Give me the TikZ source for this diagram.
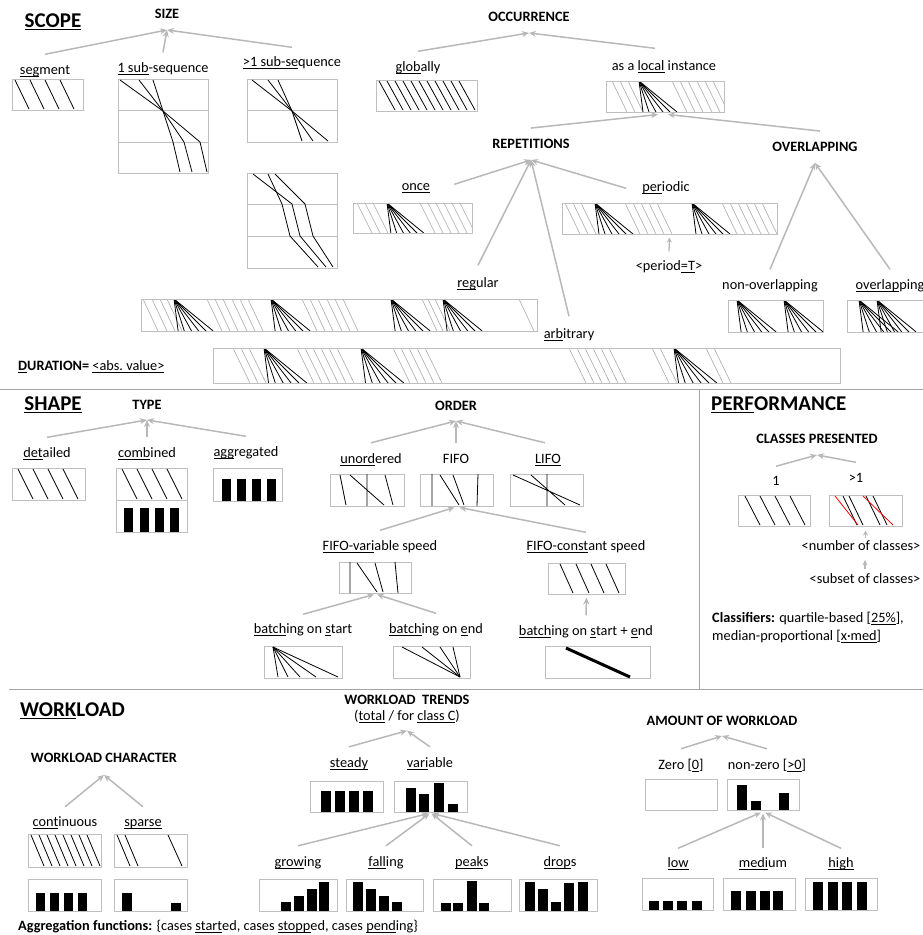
\documentclass[tikz,border=0pt]{standalone}
\usepackage{fontspec}
\setmainfont{Carlito}
\usetikzlibrary{arrows.meta,fit}

\definecolor{boxgray}{RGB}{191,191,191}
\definecolor{arrgray}{RGB}{184,184,184}
\definecolor{sepgray}{RGB}{165,165,165}
\definecolor{hatchgray}{RGB}{170,170,170}

% underline at a fixed depth
\newcommand{\und}[1]{\setbox0\hbox{#1}\rlap{\rule[-0.13em]{\wd0}{0.06em}}\box0\relax}
% gray hatching: top x list, y top, y bottom, run
\newcommand{\hatch}[4]{\foreach \tx in {#1} \draw[hat] (\tx,#2) -- ++(#4,#3-#2);}
% fan of black lines from one point on the top edge
\newcommand{\fan}[3]{\foreach \d in {4,10,17,24,31,38} \draw[blk] (#1,#2) -- ++({\d*(#3-#2)/31},#3-#2);}
% black bars: x/top list, width, bottom
\newcommand{\bars}[3]{\foreach \bx/\by in {#1} \fill (\bx,\by) rectangle (\bx+#2,#3);}

\tikzset{
  box/.style={draw=boxgray, line width=1pt},
  bx/.style={box, inner sep=0pt},
  sep/.style={draw=sepgray, line width=1pt},
  arr/.style={draw=arrgray, line width=1.5pt, -{Stealth[length=7pt,width=6pt]}},
  sarr/.style={draw=arrgray, line width=1.3pt, -{Stealth[length=5pt,width=5pt]}},
  blk/.style={line width=0.8pt},
  hat/.style={draw=hatchgray, line width=0.6pt},
  lbl/.style={font=\fontsize{14.3}{17}\selectfont, inner sep=1pt, text height=10pt, text depth=3pt},
  hd/.style={font=\fontsize{14.3}{17}\selectfont\bfseries, inner sep=1pt, text height=9.5pt, text depth=0pt},
  big/.style={font=\fontsize{21}{24}\selectfont\bfseries, inner sep=1pt},
}

\begin{document}
\begin{tikzpicture}[x=1pt,y=-1pt]
\useasboundingbox (0,0) rectangle (923,935);

% ---------------- SCOPE ----------------
\node[big] (scope) at (53,22) {\und{SCOPE}};
\node[hd] (size) at (167,14) {SIZE};
\coordinate (sizeT) at ([yshift=-10pt]size.south);
\node[lbl] (seg) at (45,71) {\und{seg}ment};
\node[lbl] (sub1) at (163,69) {\und{1 sub}-sequence};
\node[lbl] (subN) at (292,63) {\und{>1 sub-se}quence};
\draw[arr] ([yshift=9pt]seg.north) -- (sizeT);
\draw[arr] ([yshift=9pt]sub1.north) -- (sizeT);
\draw[arr] ([yshift=8pt]subN.north) -- (sizeT);

\node[bx, fit={(12,79) (83,110)}] (segB) {};
\foreach \tx in {15,30,45,60} \draw[blk] (\tx,80) -- ++(14,29);

\node[bx, fit={(118,79) (208,173)}] (sub1B) {};
\draw[box] (118,110) -- (208,110) (118,142) -- (208,142);
\draw[blk] (120,80) -- (163,111) -- (200,142) -- (207,172);
\draw[blk] (139,80) -- (163,111) -- (184,142) -- (192,172);
\draw[blk] (153,80) -- (163,111) -- (173,142) -- (180,172);

\node[bx, fit={(247,79) (337,142)}] (subNa) {};
\draw[box] (247,110) -- (337,110);
\draw[blk] (252,80) -- (292,111) -- (328,141);
\draw[blk] (268,80) -- (292,111) -- (313,141);
\draw[blk] (278,80) -- (292,111) -- (302,141);

\node[bx, fit={(247,173) (337,268)}] (subNb) {};
\draw[box] (247,204) -- (337,204) (247,236) -- (337,236);
\draw[blk] (253,174) -- (292,204) -- (300,236) -- (326,267);
\draw[blk] (268,174) -- (282,204) -- (290,236) -- (318,267);
\draw[blk] (275,174) -- (305,204) -- (313,236) -- (333,267);

\node[hd] (occ) at (529,17) {OCCURRENCE};
\coordinate (occT) at ([yshift=-10pt]occ.south);
\node[lbl] (glob) at (418,68) {\und{glob}ally};
\node[lbl] (loc) at (664,67) {as a \und{local} instance};
\draw[arr] ([yshift=9pt]glob.north) -- (occT);
\draw[arr] ([xshift=-9pt,yshift=11pt]loc.north) -- (occT);

\node[bx, fit={(376,80) (477,111)}] (globB) {};
\foreach \i in {0,...,10} \draw[blk] (379+8*\i,81) -- ++(16,29);

\begin{scope}
  \clip (606,81) rectangle (724,112);
  \hatch{612,620,628,672,680,688,697,705,713}{81}{112}{15}
  \fan{639}{81}{112}
\end{scope}
\node[bx, fit={(606,81) (724,112)}] (locB) {};

\node[hd] (rep) at (531,144) {REPETITIONS};
\node[hd] (ovl) at (815,147) {OVERLAPPING};
\coordinate (repT) at ([yshift=-10pt]rep.south);
\coordinate (ovlT) at ([yshift=-10pt]ovl.south);
\draw[arr] ([yshift=10pt]rep.north) -- ([xshift=-7pt,yshift=-2pt]locB.south);
\draw[arr] ([xshift=5pt,yshift=10pt]ovl.north) -- ([xshift=3pt,yshift=-2pt]locB.south);

\node[lbl] (once) at (416,187) {\und{once}};
\node[lbl] (per) at (666,188) {\und{per}iodic};
\node[lbl] (reg) at (478,284) {\und{reg}ular};
\node[lbl] (arb) at (569,335) {\und{arb}itrary};
\draw[arr] ([xshift=23pt,yshift=-5pt]once.north east) -- (repT);
\draw[arr] ([xshift=-15pt,yshift=-8pt]per.north west) -- (repT);
\draw[arr] ([yshift=11pt]reg.north) -- (repT);
\draw[arr] ([yshift=11pt]arb.north) -- (repT);

\begin{scope}
  \clip (353,203) rectangle (472,233);
  \hatch{357,365,373,420,428,436,444,452,460}{203}{233}{15}
  \fan{387}{203}{233}
\end{scope}
\node[bx, fit={(353,203) (472,233)}] (onceB) {};

\begin{scope}
  \clip (562,203) rectangle (777,234);
  \hatch{565,573,581,625,633,641,649,657,722,730,738,746,754,762}{203}{234}{15}
  \fan{595}{203}{234}
  \fan{692}{203}{234}
\end{scope}
\node[bx, fit={(562,203) (777,234)}] (perB) {};
\node[lbl] (perT) at (669,267) {<period\und{=T}>};
\draw[sarr] ([yshift=8pt]perT.north) -- ([yshift=-3pt]perB.south);

\begin{scope}
  \clip (141,299) rectangle (537,331);
  \hatch{143,152,160,167,207,215,223,232,240,248,302,310,318,327,335,343,422,428,435,519}{299}{331}{15}
  \fan{174}{299}{331}
  \fan{271}{299}{331}
  \fan{391}{299}{331}
  \fan{443}{299}{331}
\end{scope}
\node[bx, fit={(141,299) (537,331)}] (regB) {};

\begin{scope}
  \clip (213,348) rectangle (840,383);
  \hatch{233,241,249,297,305,313,321,329,337,393,401,409,417,425,569,577,585,593,601,609,652,660,706,714}{348}{383}{17}
  \fan{264}{348}{383}
  \fan{361}{348}{383}
  \fan{674}{348}{383}
\end{scope}
\node[bx, fit={(213,348) (840,383)}] (arbB) {};
\node[lbl, anchor=west] (dur) at (17,367) {\textbf{\und{D}URATION=} \und{<abs.\ value>}};

\node[lbl] (nonov) at (770,286) {non-overlapping};
\node[lbl] (ov) at (890,286) {\und{overlap}ping};
\draw[arr] ([yshift=9pt]nonov.north) -- (ovlT);
\draw[arr] ([yshift=9pt]ov.north) -- (ovlT);
\begin{scope}
  \clip (728,300) rectangle (823,332);
  \fan{737}{300}{332}
  \fan{784}{300}{332}
\end{scope}
\node[bx, fit={(728,300) (823,332)}] (nonovB) {};
\begin{scope}
  \clip (847,300) rectangle (950,332);
  \fan{859}{300}{332}
  \fan{877}{300}{332}
\end{scope}
\node[bx, fit={(847,300) (950,332)}] (ovB) {};

% separators
\draw[sep] (0,389) -- (923,389);
\draw[sep] (699,389) -- (699,689);
\draw[sep] (9,689) -- (923,689);

% ---------------- SHAPE ----------------
\node[big] (shape) at (53,405) {\und{SHAPE}};
\node[hd] (type) at (147,405) {TYPE};
\coordinate (typeT) at ([yshift=-9pt]type.south);
\node[lbl] (det) at (47,454) {\und{det}ailed};
\node[lbl] (comb) at (147,454) {\und{comb}ined};
\node[lbl] (agg) at (246,453) {\und{agg}regated};
\draw[arr] ([yshift=9pt]det.north) -- (typeT);
\draw[arr] ([yshift=9pt]comb.north) -- (typeT);
\draw[arr] ([yshift=9pt]agg.north) -- (typeT);

\node[bx, fit={(12,468) (85,500)}] (detB) {};
\foreach \tx in {18,33,48,63} \draw[blk] (\tx,469) -- ++(15,30);
\node[bx, fit={(116,468) (187,500)}] (combB) {};
\foreach \tx in {122,137,152,167} \draw[blk] (\tx,469) -- ++(15,30);
\node[bx, fit={(116,500) (187,532)}] (combB2) {};
\bars{124/508,140/508,155/508,170/508}{9}{532}
\node[bx, fit={(213,468) (282,501)}] (aggB) {};
\bars{222/479,237/479,252/479,267/479}{9}{501}

\node[hd] (order) at (456,406) {ORDER};
\coordinate (orderT) at ([yshift=-9pt]order.south);
\node[lbl] (unord) at (371,460) {\und{unord}ered};
\node[lbl] (fifo) at (456,460) {FIFO};
\node[lbl] (lifo) at (548,460) {\und{LIFO}};
\draw[arr] ([yshift=9.5pt]unord.north) -- (orderT);
\draw[arr] ([yshift=9.5pt]fifo.north) -- (orderT);
\draw[arr] ([xshift=-3pt,yshift=9.5pt]lifo.north) -- (orderT);

\node[bx, fit={(330,474) (404,506)}] (unordB) {};
\draw[blk] (340,475) -- (346,505) (350,475) -- (384,505) (367,474) -- (367,506) (385,475) -- (393,505);
\node[bx, fit={(420,474) (493,506)}] (fifoB) {};
\draw[blk] (432,474) -- (432,506) (440,475) -- (459,505) (453,475) -- (464,505) (478,474) -- (477,506);
\node[bx, fit={(510,474) (583,506)}] (lifoB) {};
\draw[blk] (513,475) -- (580,505) (531,475) -- (565,505) (547,474) -- (547,506);

\node[lbl] (fvar) at (380,547) {\und{FIFO-vari}able speed};
\node[lbl] (fcon) at (586,547) {\und{FIFO-const}ant speed};
\draw[arr] ([yshift=9pt]fvar.north) -- ([xshift=-2pt,yshift=-1pt]fifoB.south);
\draw[arr] ([yshift=7pt]fcon.north) -- ([xshift=3pt,yshift=-1pt]fifoB.south);

\node[bx, fit={(339,562) (411,593)}] (fvarB) {};
\draw[blk] (350,562) -- (350,593) (357,563) -- (377,592) (375,563) -- (383,592) (395,562) -- (398,593);
\node[bx, fit={(548,563) (625,594)}] (fconB) {};
\foreach \tx in {560,576,591,606} \draw[blk] (\tx,564) -- ++(13,29);

\node[lbl] (bs) at (303,630) {\und{batch}ing on \und{s}tart};
\node[lbl] (be) at (436,630) {\und{batch}ing on \und{e}nd};
\node[lbl] (bse) at (586,632) {\und{batch}ing on \und{s}tart + \und{e}nd};
\draw[arr] ([yshift=8pt]bs.north) -- ([xshift=-1pt,yshift=-1pt]fvarB.south);
\draw[arr] ([yshift=9pt]be.north) -- ([xshift=2pt,yshift=-1pt]fvarB.south);
\draw[arr] ([yshift=9pt]bse.north) -- ([yshift=-3pt]fconB.south);

\node[bx, fit={(264,646) (342,678)}] (bsB) {};
\foreach \ex in {278,288,300,316,338} \draw[blk] (273,647) -- (\ex,677);
\node[bx, fit={(393,646) (470,678)}] (beB) {};
\foreach \sx in {402,422,440,453} \draw[blk] (\sx,647) -- (460,677);
\node[bx, fit={(545,646) (650,678)}] (bseB) {};
\draw[line width=3pt] (566,648) -- (630,677);

% ---------------- PERFORMANCE ----------------
\node[big, anchor=west] (perf) at (710,405) {\und{PERF}ORMANCE};
\node[hd] (cls) at (817,439) {CLASSES PRESENTED};
\coordinate (clsT) at ([yshift=-10pt]cls.south);
\node[lbl] (one) at (776,482) {1};
\node[lbl] (gtone) at (856,479) {>1};
\draw[arr] ([yshift=8pt]one.north) -- (clsT);
\draw[arr] ([yshift=9pt]gtone.north) -- (clsT);

\node[bx, fit={(738,495) (810,526)}] (oneB) {};
\foreach \tx in {745,760,775,790} \draw[blk] (\tx,496) -- ++(15,29);
\node[bx, fit={(829,495) (902,526)}] (gtoneB) {};
\foreach \tx in {843,849,866,873} \draw[blk] (\tx,496) -- ++(14,29);
\draw[red, line width=0.8pt] (835,496) -- (858,525) (863,496) -- (893,525);

\node[lbl] (numc) at (861,547) {<number of classes>};
\node[lbl] (subc) at (865,580) {<subset of classes>};
\draw[sarr, shorten <=1.5pt] (numc.north -| gtoneB.south) -- ([yshift=-4pt]gtoneB.south);
\draw[sarr, shorten >=5.5pt] ([yshift=3pt]subc.north) -- (numc.south -| subc.north);

\node[lbl, anchor=west] (clf1) at (711,619) {\textbf{Classifiers:} quartile-based [\und{25\%}],};
\node[lbl, anchor=west] (clf2) at (711,637) {median-proportional [\und{x·med}]};

% ---------------- WORKLOAD ----------------
\node[big, anchor=west] (work) at (19,711) {\und{WORK}LOAD};
\node[hd] (wchar) at (104,758) {WORKLOAD CHARACTER};
\coordinate (wcharT) at ([yshift=-11pt]wchar.south);
\node[lbl] (cont) at (65,823) {\und{cont}inuous};
\node[lbl] (spar) at (143,823) {\und{sparse}};
\draw[arr] ([yshift=8.5pt]cont.north) -- (wcharT);
\draw[arr] ([yshift=8.5pt]spar.north) -- (wcharT);

\begin{scope}
  \clip (28,834) rectangle (101,867);
  \foreach \i in {0,...,7} \draw[blk] (31+8*\i,835) -- ++(13,31);
\end{scope}
\node[bx, fit={(28,834) (101,867)}] (contB) {};
\node[bx, fit={(114,834) (187,867)}] (sparB) {};
\draw[blk] (117,835) -- ++(13,31) (125,835) -- ++(13,31) (168,835) -- ++(14,31);
\node[bx, fit={(28,879) (101,911)}] (contB2) {};
\bars{36/893,50/893,64/893,78/893}{9}{911}
\node[bx, fit={(114,879) (187,911)}] (sparB2) {};
\bars{122/893,171/903}{10}{911}

\node[hd] (wt) at (407,700) {WORKLOAD\ \ TRENDS};
\node[lbl] (wtsub) at (407,717) {(\und{total} / for \und{class C})};
\coordinate (wtT) at ([yshift=-6pt]wtsub.south);
\node[lbl] (steady) at (349,764) {\und{steady}};
\node[lbl] (vari) at (430,764) {\und{vari}able};
\draw[arr] ([yshift=9.5pt]steady.north) -- (wtT);
\draw[arr] ([yshift=9.5pt]vari.north) -- (wtT);

\node[bx, fit={(310,781) (383,812)}] (steadyB) {};
\bars{321/791,335/791,349/791,363/791}{9.5}{812}
\node[bx, fit={(394,781) (467,812)}] (variB) {};
\bars{406/788,419/794,434/783,448/804}{9.5}{812}

\node[lbl] (grow) at (298,863) {\und{grow}ing};
\node[lbl] (fall) at (386,863) {\und{fall}ing};
\node[lbl] (peaks) at (472,863) {\und{peak}s};
\node[lbl] (drops) at (560,863) {\und{drop}s};
\draw[arr] ([yshift=9.5pt]grow.north) -- ([xshift=-2pt,yshift=-1pt]variB.south);
\draw[arr] ([yshift=9.5pt]fall.north) -- ([xshift=-1pt,yshift=-1pt]variB.south);
\draw[arr] ([yshift=9.5pt]peaks.north) -- ([xshift=1pt,yshift=-1pt]variB.south);
\draw[arr] ([yshift=9.5pt]drops.north) -- ([xshift=2pt,yshift=-1pt]variB.south);

\node[bx, fit={(259,879) (337,911)}] (growB) {};
\bars{281/902,294/896,307/889,319/882}{9.5}{911}
\node[bx, fit={(346,879) (423,911)}] (fallB) {};
\bars{353/882,366/889,379/896,392/902}{9.5}{911}
\node[bx, fit={(433,879) (511,911)}] (peaksB) {};
\bars{441/903,453/903,467/881,479/903}{9.5}{911}
\node[bx, fit={(519,879) (597,911)}] (dropsB) {};
\bars{525/882,538/889,551/902,564/883,578/882}{9.5}{911}

\node[hd] (amount) at (722,721) {AMOUNT OF WORKLOAD};
\coordinate (amountT) at ([yshift=-9pt]amount.south);
\node[lbl] (zero) at (681,766) {Zero [\und{0}]};
\node[lbl] (nzero) at (767,766) {non-zero [\und{>0}]};
\draw[arr] ([yshift=9.5pt]zero.north) -- (amountT);
\draw[arr] ([yshift=9.5pt]nzero.north) -- (amountT);

\node[bx, fit={(645,779) (717,810)}] (zeroB) {};
\node[bx, fit={(727,779) (799,810)}] (nzeroB) {};
\bars{737/785,751/801,779/793}{10}{810}

\node[lbl] (low) at (678,864) {\und{low}};
\node[lbl] (med) at (763,864) {\und{medi}um};
\node[lbl] (high) at (841,864) {\und{high}};
\draw[arr] ([yshift=8pt]low.north) -- ([xshift=-2pt,yshift=-2pt]nzeroB.south);
\draw[arr] ([yshift=8pt]med.north) -- ([yshift=-3pt]nzeroB.south);
\draw[arr] ([yshift=8pt]high.north) -- ([xshift=2pt,yshift=-2pt]nzeroB.south);

\node[bx, fit={(642,878) (713,910)}] (lowB) {};
\bars{649/901,663/901,677/901,692/901}{10}{910}
\node[bx, fit={(723,878) (795,910)}] (medB) {};
\bars{731/891,746/891,760/891,773/891}{10}{910}
\node[bx, fit={(805,878) (877,910)}] (highB) {};
\bars{813/882,828/882,842/882,857/882}{10}{910}

\node[lbl, anchor=west] (aggf) at (17,927) {\textbf{Aggregation functions:} \{cases \und{start}ed, cases \und{stopp}ed, cases \und{pend}ing\}};
\end{tikzpicture}
\end{document}
